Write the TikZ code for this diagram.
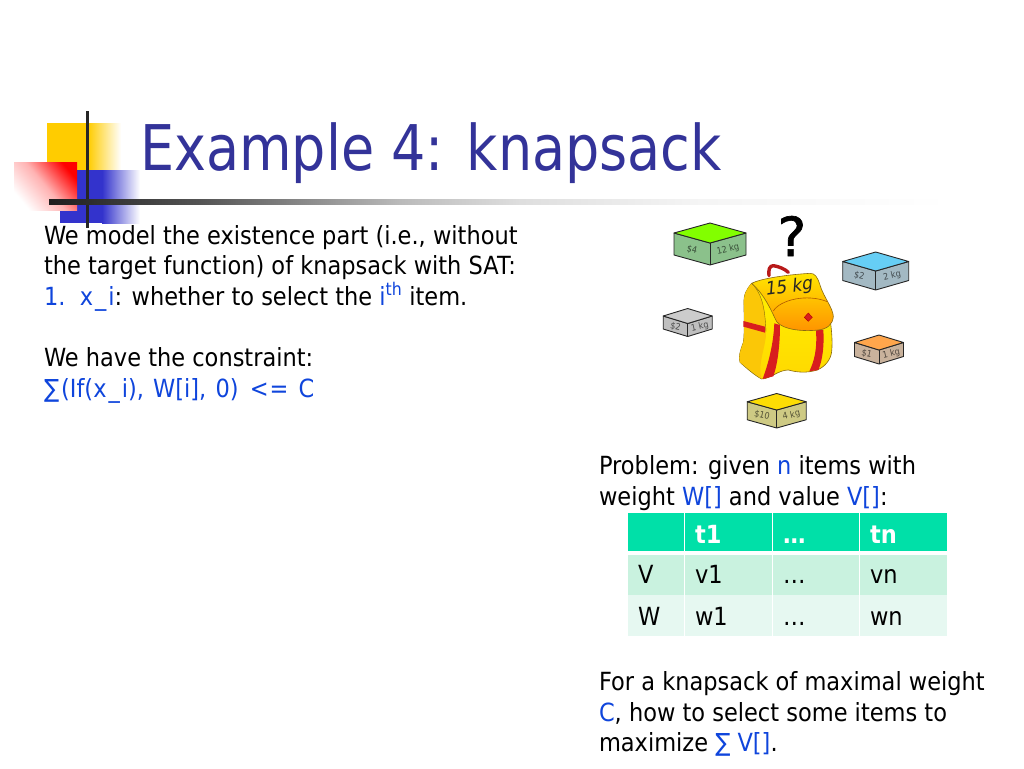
\documentclass[tikz,border=0pt]{standalone}
\usepackage{fontspec}
\setmainfont[FakeStretch=0.9]{DejaVu Sans}
\newfontfamily\ttlfont[FakeStretch=0.857]{DejaVu Sans}
\newfontfamily\kgfont[FakeSlant=.22,FakeStretch=.95]{DejaVu Sans}
\newfontfamily\qfont[FakeBold=1.2]{DejaVu Sans}
\usetikzlibrary{shadings}
\definecolor{ttl}{HTML}{333399}
\definecolor{acc}{HTML}{0F45DC}
\definecolor{hdr}{HTML}{00E0A8}
\definecolor{rowa}{HTML}{C9F2DF}
\definecolor{rowb}{HTML}{E6F8F1}
\definecolor{decoy}{RGB}{255,204,0}
\definecolor{decob}{RGB}{51,51,204}
\definecolor{strap}{HTML}{D81E1E}
\definecolor{packedge}{HTML}{8A6A10}
\tikzset{
  body/.style={anchor=base west,inner sep=0pt,outer sep=0pt,font=\fontsize{25}{30}\selectfont,text=black},
  cellh/.style={body,font=\fontsize{25}{30}\selectfont\bfseries,text=white},
  cellfill/.style={anchor=north west,inner sep=0pt,outer sep=0pt,draw=none},
  boxlab/.style={inner sep=0pt,text opacity=.6,font=\fontsize{9}{10}\selectfont},
  boxedge/.style={draw=black!85,line width=.9pt,line join=round},
  packline/.style={draw=packedge,line width=.6pt,line join=round}
}
\newcommand{\ac}[1]{\textcolor{acc}{#1}}
\newcommand{\us}{\kern2pt\_\kern2pt}
% cx, top y, half width, top-face depth, height, top colour, side colour, left text, right text
\newcommand{\kbox}[9]{%
  \fill[fill=#7,boxedge] (#1-#3,#2+#4/2) -- (#1,#2+#4) -- (#1+#3,#2+#4/2) -- (#1+#3,#2+#4/2+#5) -- (#1,#2+#4+#5) -- (#1-#3,#2+#4/2+#5) -- cycle;
  \fill[fill=#6,boxedge] (#1-#3,#2+#4/2) -- (#1,#2) -- (#1+#3,#2+#4/2) -- (#1,#2+#4) -- cycle;
  \draw[boxedge] (#1,#2+#4) -- (#1,#2+#4+#5);
  \node[boxlab,rotate=-13] at (#1-#3/2,#2+#4*.75+#5/2+.5) {#8};
  \node[boxlab,rotate=13] at (#1+#3/2,#2+#4*.75+#5/2+.5) {#9};
}
\begin{document}
\begin{tikzpicture}[x=1pt,y=-1pt]
\useasboundingbox (0,0) rectangle (1024,768);
\fill[white] (0,0) rectangle (1024,768);
% decoration
\fill[decoy] (47,123) rectangle (88,170);
\shade[left color=decoy,right color=white] (88,123) rectangle (121,170);
\fill[decob] (60,170) rectangle (102,223);
\shade[left color=decob,right color=white] (102,170) rectangle (140,223);
\shade[top color=red,bottom color=white,middle color=red!30,shading angle=-50] (14,162) rectangle (77,210);
\fill[color=black!85] (85.5,111) rectangle (88.5,228);
\shade[left color=black!88,right color=black!67] (49,199) rectangle (200,204);
\shade[left color=black!67,right color=black!27] (200,199) rectangle (400,204);
\shade[left color=black!27,right color=black!13] (400,199) rectangle (520,204);
\shade[left color=black!13,right color=black!4] (520,199) rectangle (700,204);
\shade[left color=black!4,right color=white] (700,199) rectangle (950,204);
% title
\node[body,text=ttl,font=\fontsize{63}{70}\ttlfont] (title) at (140,170) {Example 4: knapsack};
% left text
\node[body] (l1) at (44,244) {We model the existence part (i.e., without};
\node[body] (l2) at (44,274) {the target function) of knapsack with SAT:};
\node[body] (l3) at (44,305) {\ac{1.\ \ x\us i}: whether to select the \ac{i\textsuperscript{th}} item.};
\node[body] (l4) at (44,366.5) {We have the constraint:};
\node[body,text=acc] (l5) at (44,397) {∑\kern2pt(If(x\us i),\kern2pt{} W[i],\kern2pt{} 0)\kern4pt{} <\kern1pt=\kern3pt{} C};
% right text
\node[body] (p1) at (599,474) {Problem: given \ac{n} items with};
\node[body] (p2) at (599,505) {weight \ac{W[]} and value \ac{V[]}:};
\node[body] (f1) at (599,690) {For a knapsack of maximal weight};
\node[body] (f2) at (599,721) {\ac{C}, how to select some items to};
\node[body] (f3) at (599,751) {maximize \ac{∑ V[]}.};
% table
\foreach \x/\w/\n in {628.3/55.4/a,685/86.5/b,773/85.5/c,860/87/d}{
  \node[cellfill,fill=hdr,minimum width=\w pt,minimum height=38.5pt] (h\n) at (\x,512.5) {};
  \node[cellfill,fill=rowa,minimum width=\w pt,minimum height=39.5pt] (v\n) at (\x,555) {};
  \node[cellfill,fill=rowb,minimum width=\w pt,minimum height=41pt] (w\n) at (\x,595) {};
}
\node[cellh] (t1) at (695,543) {t1};
\node[cellh] (t2) at (783,543) {…};
\node[cellh] (t3) at (870,543) {tn};
\node[body] (r1) at (638,583) {V};
\node[body] (r2) at (695,583) {v1};
\node[body] (r3) at (783,583) {…};
\node[body] (r4) at (870,583) {vn};
\node[body] (s1) at (638,625) {W};
\node[body] (s2) at (695,625) {w1};
\node[body] (s3) at (783,625) {…};
\node[body] (s4) at (870,625) {wn};
% boxes
\kbox{710}{223}{36}{20}{22}{green!60!lime!70!yellow}{green!30!gray!70}{\$4}{12 kg}
\kbox{875.7}{252}{33}{19}{19}{cyan!60!white}{cyan!25!gray!70}{\$2}{2 kg}
\kbox{687.7}{308.5}{24.5}{15}{13}{gray!40}{gray!50}{\$2}{1 kg}
\kbox{879}{335}{24.5}{15}{14}{orange!70!white}{orange!30!gray!60}{\$1}{1 kg}
\kbox{776.7}{393.5}{29.5}{16.5}{18}{yellow!80!orange}{yellow!45!gray!80}{\$10}{4 kg}
% question mark
\node[inner sep=0pt,font=\fontsize{54}{60}\qfont] (q) at (792,236) {?};
% backpack, in zoomed coordinates
\begin{scope}[shift={(650,205)},scale=.3333]
\begin{scope}[shift={(240,150)}]
\draw[draw=strap!85!black,line width=3.4pt,line cap=round,line join=round]
  (117,62) .. controls (115,45) and (118,32) .. (130,32) .. controls (145,34) and (165,42) .. (175,52);
\draw[packline,top color=yellow!90!orange,bottom color=yellow!70!orange]
  (65,85) .. controls (48,105) and (40,120) .. (42,150) .. controls (42,190) and (44,240) .. (40,262)
  .. controls (30,290) and (25,305) .. (30,322) .. controls (50,340) and (75,362) .. (95,372)
  .. controls (120,372) and (145,345) .. (175,345) .. controls (200,352) and (230,355) .. (262,345)
  .. controls (285,335) and (302,315) .. (305,290) .. controls (308,260) and (305,230) .. (302,205)
  -- (240,60) -- cycle;
\fill[yellow!60!orange] (65,85) .. controls (48,105) and (40,120) .. (42,150) .. controls (42,190) and (44,240) .. (40,262)
  .. controls (30,290) and (25,305) .. (30,322) -- (95,372) .. controls (80,330) and (110,270) .. (108,230) .. controls (105,170) and (100,120) .. (65,85) -- cycle;
\draw[draw=packedge,line width=.4pt] (65,85) .. controls (100,120) and (105,170) .. (108,230);
\fill[strap] (40,198) -- (105,215) -- (105,233) -- (40,215) -- cycle;
\fill[strap] (133,205) -- (150,210) .. controls (150,260) and (145,320) .. (130,364) -- (98,372) .. controls (115,325) and (130,270) .. (133,205) -- cycle;
\fill[strap] (258,226) -- (280,224) .. controls (283,270) and (278,315) .. (265,345) -- (238,349) .. controls (252,320) and (262,285) .. (258,226) -- cycle;
\draw[packline,top color=yellow!80!orange,bottom color=orange!85!yellow]
  (65,85) .. controls (90,72) and (160,60) .. (240,55) .. controls (255,55) and (262,65) .. (270,90)
  .. controls (280,125) and (310,160) .. (310,185) .. controls (308,210) and (290,222) .. (265,225)
  .. controls (220,230) and (160,225) .. (140,200) .. controls (125,170) and (105,120) .. (65,85) -- cycle;
\draw[draw=orange!70!black,line width=.6pt] (130,168) .. controls (150,135) and (230,115) .. (292,140);
\draw[draw=red!70!black,line width=.4pt,fill=strap] (235,174) -- (247,187) -- (235,199) -- (223,187) -- cycle;
\node[inner sep=0pt,rotate=8,text=black!85,font=\fontsize{18}{20}\kgfont] (kg) at (175,98) {15 kg};
\end{scope}
\end{scope}
\end{tikzpicture}
\end{document}
